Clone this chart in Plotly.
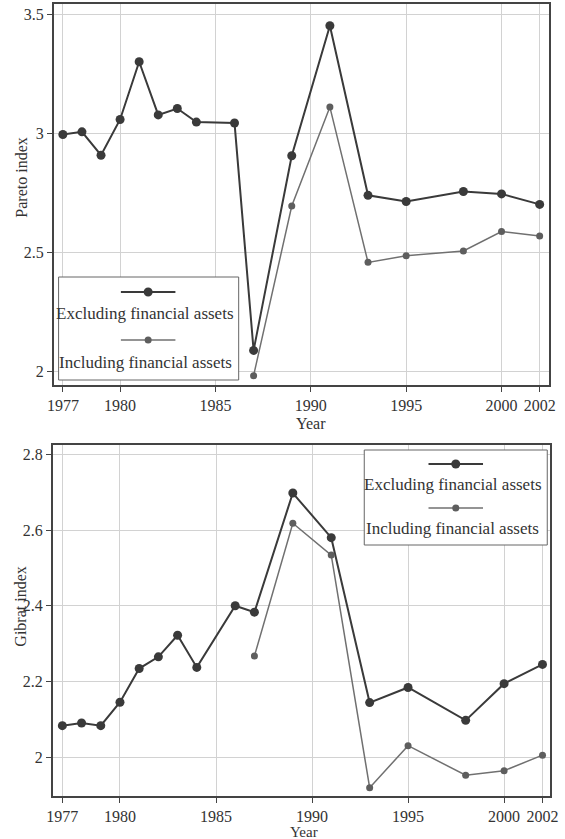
import plotly.graph_objects as go

# ---- data -------------------------------------------------------------
years_excl = [1977, 1978, 1979, 1980, 1981, 1982, 1983, 1984, 1986, 1987,
              1989, 1991, 1993, 1995, 1998, 2000, 2002]
years_incl = [1987, 1989, 1991, 1993, 1995, 1998, 2000, 2002]

pareto_excl = [2.995, 3.006, 2.908, 3.058, 3.300, 3.077, 3.104, 3.047, 3.043,
               2.090, 2.906, 3.451, 2.740, 2.714, 2.756, 2.746, 2.702]
pareto_incl = [1.984, 2.695, 3.110, 2.459, 2.487, 2.507, 2.588, 2.570]

gibrat_excl = [2.083, 2.090, 2.083, 2.145, 2.234, 2.265, 2.322, 2.237, 2.400,
               2.383, 2.698, 2.580, 2.144, 2.184, 2.097, 2.194, 2.245]
gibrat_incl = [2.267, 2.618, 2.534, 1.919, 2.030, 1.952, 1.964, 2.005]

year_ticks = [1977, 1980, 1985, 1990, 1995, 2000, 2002]
pareto_ticks = [2, 2.5, 3, 3.5]
pareto_tick_text = ["2", "2.5", "3", "3.5"]
gibrat_ticks = [2, 2.2, 2.4, 2.6, 2.8]
gibrat_tick_text = ["2", "2.2", "2.4", "2.6", "2.8"]

series_names = ["Excluding financial assets", "Including financial assets"]

# ---- styling ----------------------------------------------------------
W, H = 565, 839
FONT = "Liberation Serif, Times New Roman, serif"
TEXT = "#333333"
DARK = "#3a3a3a"
LIGHT = "#707070"
AXIS = "#444444"
GRID = "#d2d2d2"


def px_x(p):
    return p / W


def px_y(p):
    return 1 - p / H


fig = go.Figure()

styles = [
    dict(line=dict(color=DARK, width=2), marker=dict(color=DARK, size=9)),
    dict(line=dict(color=LIGHT, width=1.5), marker=dict(color="#5e5e5e", size=7)),
]

panels = [
    ("x", "y", [years_excl, years_incl], [pareto_excl, pareto_incl]),
    ("x2", "y2", [years_excl, years_incl], [gibrat_excl, gibrat_incl]),
]
for xa, ya, xs, ys in panels:
    for name, xv, yv, st in zip(series_names, xs, ys, styles):
        fig.add_trace(go.Scatter(
            x=xv, y=yv, name=name, mode="lines+markers",
            line=st["line"], marker=st["marker"],
            xaxis=xa, yaxis=ya, showlegend=False,
        ))

common_axis = dict(
    showline=True, mirror=True, linecolor=AXIS, linewidth=1.5,
    ticks="outside", ticklen=5, tickcolor=AXIS, tickwidth=1,
    showgrid=True, gridcolor=GRID, gridwidth=1,
    zeroline=False,
    tickfont=dict(family=FONT, size=16, color=TEXT),
)

fig.update_layout(
    width=W, height=H,
    margin=dict(l=0, r=0, t=0, b=0),
    paper_bgcolor="white", plot_bgcolor="white",
    font=dict(family=FONT, color=TEXT),
    xaxis=dict(common_axis, domain=[px_x(48), px_x(557)],
               range=[1976.52, 2002.5], tickvals=year_ticks, anchor="y"),
    yaxis=dict(common_axis, domain=[px_y(385), px_y(4)],
               range=[1.945, 3.542], tickvals=pareto_ticks,
               ticktext=pareto_tick_text, anchor="x"),
    xaxis2=dict(common_axis, domain=[px_x(47), px_x(558)],
                range=[1976.5, 2002.4], tickvals=year_ticks, anchor="y2"),
    yaxis2=dict(common_axis, domain=[px_y(796), px_y(445)],
                range=[1.897, 2.825], tickvals=gibrat_ticks,
                ticktext=gibrat_tick_text, anchor="x2"),
)

# ---- axis titles --------------------------------------------------------
titles = [
    ("Year", 312, 423, 0, 16),
    ("Year", 305, 832, 0, 15),
    ("Pareto index", 14, 178, -90, 16),
    ("Gibrat index", 13, 607, -90, 16),
]
annotations = []
for txt, x, y, ang, size in titles:
    annotations.append(dict(
        text=txt, x=px_x(x), y=px_y(y), xref="paper", yref="paper",
        showarrow=False, textangle=ang, xanchor="center", yanchor="middle",
        font=dict(family=FONT, size=size, color=TEXT),
    ))

# ---- legends: symbol drawn above each label, inside a framed box ---------
shapes = []


def legend_box(x0, x1, y0, y1, cx, sym_rows, text_rows, half_len):
    shapes.append(dict(
        type="rect", xref="paper", yref="paper",
        x0=px_x(x0), x1=px_x(x1), y0=px_y(y1), y1=px_y(y0),
        line=dict(color="#666666", width=1), fillcolor="white", layer="above",
    ))
    for st, sy in zip(styles, sym_rows):
        shapes.append(dict(
            type="line", xref="paper", yref="paper",
            x0=px_x(cx - half_len), x1=px_x(cx + half_len),
            y0=px_y(sy), y1=px_y(sy),
            line=dict(color=st["line"]["color"], width=st["line"]["width"]),
            layer="above",
        ))
        r = st["marker"]["size"] / 2
        shapes.append(dict(
            type="circle", xref="paper", yref="paper",
            xsizemode="pixel", ysizemode="pixel",
            xanchor=px_x(cx), yanchor=px_y(sy),
            x0=-r, x1=r, y0=-r, y1=r,
            fillcolor=st["marker"]["color"], line=dict(width=0), layer="above",
        ))
    for name, ty in zip(series_names, text_rows):
        annotations.append(dict(
            text=name, x=px_x(cx - 3), y=px_y(ty), xref="paper", yref="paper",
            showarrow=False, xanchor="center", yanchor="middle",
            font=dict(family=FONT, size=17, color=TEXT),
        ))


legend_box(53, 238, 277, 380, 145, [292, 340], [314, 362], 28)
legend_box(367, 555, 450, 545, 461, [464, 508], [484, 528], 28)

fig.update_layout(annotations=annotations, shapes=shapes)

fig.write_html("out.html")
